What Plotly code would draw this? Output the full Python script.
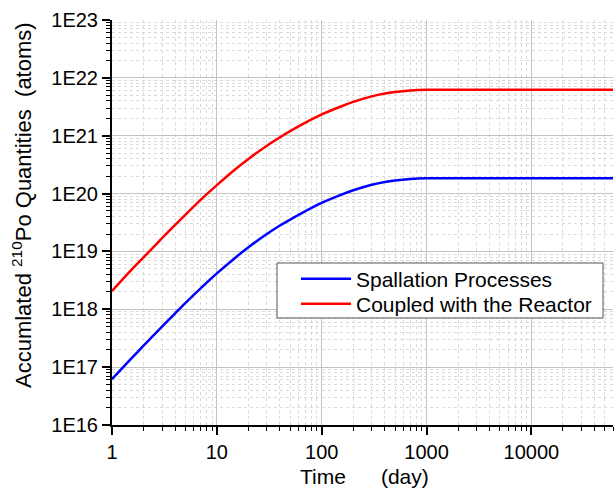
import plotly.graph_objects as go

# Irradiation time (days)
days = [1, 1.5, 2, 3, 4, 5, 7, 10, 15, 20, 30, 40, 50, 70, 100, 150, 200,
        300, 400, 500, 700, 1000, 2000, 5000, 10000, 20000, 60000]

# Accumulated Po-210 (atoms) from spallation processes only
spallation = [6.2e16, 1.36e17, 2.35e17, 5.0e17, 8.5e17, 1.28e18, 2.3e18,
              4.17e18, 7.8e18, 1.18e19, 2.0e19, 2.8e19, 3.55e19, 4.98e19,
              6.9e19, 9.4e19, 1.14e20, 1.42e20, 1.59e20, 1.69e20, 1.79e20,
              1.84e20, 1.84e20, 1.84e20, 1.84e20, 1.84e20, 1.84e20]

# Accumulated Po-210 (atoms) when coupled with the reactor
reactor = [2.07e18, 4.6e18, 7.9e18, 1.69e19, 2.87e19, 4.3e19, 7.8e19,
           1.4e20, 2.63e20, 3.97e20, 6.7e20, 9.4e20, 1.2e21, 1.68e21,
           2.33e21, 3.17e21, 3.84e21, 4.78e21, 5.35e21, 5.69e21, 6.03e21,
           6.2e21, 6.2e21, 6.2e21, 6.2e21, 6.2e21, 6.2e21]

series_names = ["Spallation Processes", "Coupled with the Reactor"]
series_colors = ["rgb(0,0,255)", "rgb(255,0,0)"]

x_tick_vals = [1, 10, 100, 1000, 10000]
x_tick_text = ["1", "10", "100", "1000", "10000"]
y_tick_vals = [1e16, 1e17, 1e18, 1e19, 1e20, 1e21, 1e22, 1e23]
y_tick_text = ["1E16", "1E17", "1E18", "1E19", "1E20", "1E21", "1E22", "1E23"]

FONT = "Liberation Sans, Arial, sans-serif"

# figure geometry (pixels)
W, H = 616, 488
ML, MR, MT, MB = 112, 3, 20, 63
PW, PH = W - ML - MR, H - MT - MB


def px_x(px):
    return (px - ML) / PW


def px_y(py):
    return (H - MB - py) / PH


# minor ticks at 2..9 within each decade
x_minor = [m * 10 ** d for d in range(0, 5) for m in range(2, 10) if m * 10 ** d <= 60000]
y_minor = [m * 10.0 ** d for d in range(16, 23) for m in range(2, 10)]

fig = go.Figure()
legend_ids = ["legend", "legend2"]
for name, vals, col, lg in zip(series_names, [spallation, reactor], series_colors, legend_ids):
    fig.add_trace(go.Scatter(
        x=days, y=vals, name=name, mode="lines", legend=lg, showlegend=True,
        line=dict(color=col, width=2.5, shape="spline", smoothing=0.6),
    ))

axis_common = dict(
    type="log",
    showline=True, linecolor="black", linewidth=2,
    ticks="outside", ticklen=8, tickwidth=1.5, tickcolor="black",
    showgrid=True, gridcolor="#c4c4c4", gridwidth=1,
    zeroline=False, mirror=False,
    tickfont=dict(family=FONT, size=20, color="black"),
)
minor_common = dict(
    tickmode="array", ticks="outside", ticklen=4, tickwidth=1,
    tickcolor="black", showgrid=True, gridcolor="#dadada",
    griddash="dot", gridwidth=1,
)

fig.update_xaxes(
    **axis_common,
    range=[0, 4.778],
    tickmode="array", tickvals=x_tick_vals, ticktext=x_tick_text,
    minor=dict(tickvals=x_minor, **minor_common),
)
fig.update_yaxes(
    **axis_common,
    range=[16, 23],
    tickmode="array", tickvals=y_tick_vals, ticktext=y_tick_text,
    minor=dict(tickvals=y_minor, **minor_common),
)

# axis titles
fig.add_annotation(
    text="Time\u00a0\u00a0\u00a0\u00a0\u00a0\u00a0(day)",
    xref="paper", yref="paper", x=px_x(364), y=px_y(476),
    xanchor="center", yanchor="middle", showarrow=False,
    font=dict(family=FONT, size=21, color="black"),
)
fig.add_annotation(
    text="Accumlated <sup>210</sup>Po Quantities\u00a0\u00a0(atoms)",
    xref="paper", yref="paper", x=px_x(22), y=px_y(205),
    xanchor="center", yanchor="middle", textangle=-90, showarrow=False,
    font=dict(family=FONT, size=22, color="black"),
)

# legend frame
fig.add_shape(
    type="rect", xref="paper", yref="paper", layer="above",
    x0=px_x(277), x1=px_x(603), y0=px_y(318), y1=px_y(263),
    fillcolor="white", line=dict(color="#555555", width=1),
)

legend_common = dict(
    xanchor="left", yanchor="middle", bgcolor="rgba(0,0,0,0)", borderwidth=0,
    font=dict(family=FONT, size=21, color="black"), itemwidth=50,
)

fig.update_layout(
    width=W, height=H,
    margin=dict(l=ML, r=MR, t=MT, b=MB),
    paper_bgcolor="white", plot_bgcolor="white",
    font=dict(family=FONT, size=20, color="black"),
    showlegend=True,
    legend=dict(x=px_x(296), y=px_y(279), visible=True, **legend_common),
    legend2=dict(x=px_x(296), y=px_y(304), visible=True, **legend_common),
)

fig.write_html("out.html")
